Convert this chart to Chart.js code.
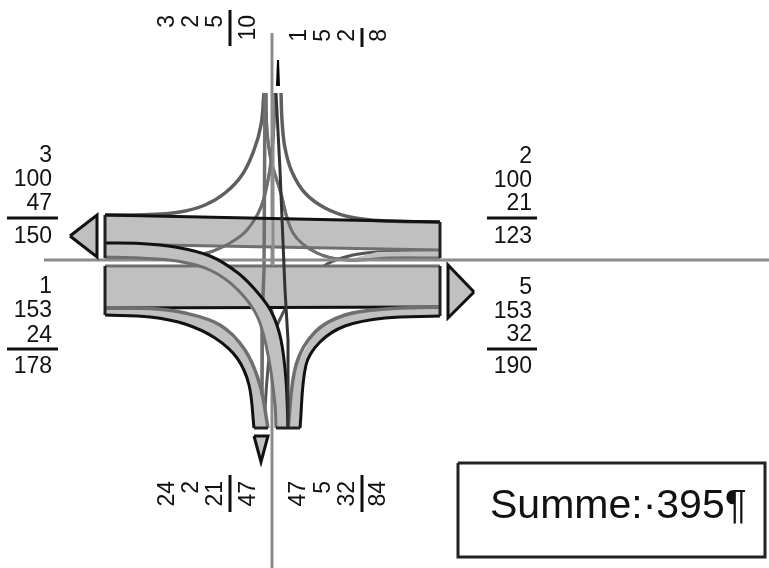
<!DOCTYPE html>
<html>
<head>
<meta charset="utf-8">
<style>
  html, body { margin: 0; padding: 0; background: #fff; }
  canvas { display: block; }
</style>
<script src="https://cdn.jsdelivr.net/npm/chart.js@4/dist/chart.umd.min.js"></script>
</head>
<body>
<canvas id="chart" width="769" height="568"></canvas>
<script>
// turning counts per arm
const westOut = [3, 100, 47], westOutSum = 150;
const westIn = [1, 153, 24], westInSum = 178;
const eastIn = [2, 100, 21], eastInSum = 123;
const eastOut = [5, 153, 32], eastOutSum = 190;
const northIn = [3, 2, 5], northInSum = 10;
const northOut = [1, 5, 2], northOutSum = 8;
const southIn = [24, 2, 21], southInSum = 47;
const southOut = [47, 5, 32], southOutSum = 84;
const totalLabel = "Summe:·395¶";

// diagram outlines
const axisH = [[44, 260], [769, 260]];
const axisV = [[272, 33], [272, 568]];
const upperBandTop = [[105, 215], [440, 222]];
const upperBandBottom = [[105, 244], [440, 250]];
const lowerBandTop = [[105, 266], [440, 266]];
const lowerBandBottom = [[105, 308], [440, 307]];
const wideOuter = [[105, 243], [140, 243.5], [175, 247], [210, 256], [238, 273], [258, 293], [272, 313], [281, 340], [286, 380], [288, 428]];
const wideInner = [[105, 257], [140, 258], [177, 261], [210, 270], [238, 290], [258, 318], [269, 360], [275, 405], [276, 428]];
const swOuter = [[105, 315], [150, 317], [185, 324], [215, 338], [237, 358], [249, 385], [254, 428]];
const swInner = [[105, 308], [150, 308.5], [185, 313], [220, 325], [245, 350], [260, 385], [268, 428]];
const seOuter = [[440, 316], [385, 318], [345, 326], [320, 342], [306, 365], [300, 428]];
const seInner = [[440, 307], [385, 309], [345, 315], [315, 332], [296, 365], [288, 428]];
const nwCurve = [[105, 215], [150, 214.5], [180, 212], [205, 205], [225, 193], [242, 175], [254, 150], [261, 125], [264, 93]];
const neCurve = [[440, 222], [385, 221], [350, 217], [325, 208], [305, 193], [292, 172], [285, 148], [282, 120], [281, 93]];
const crossLeft = [[105, 257], [150, 258], [177, 258], [207, 253], [230, 243], [247, 230], [261, 207], [269, 175], [273, 140], [275, 93]];
const crossRight = [[266, 93], [267, 130], [271, 160], [280, 190], [293, 233], [317, 253], [347, 260], [390, 258], [440, 258]];
const eastToSouth = [[440, 251], [400, 251.5], [377, 252], [353, 255], [327, 264], [300, 285], [283, 313], [272, 340], [267, 380], [264, 428]];
const eastTaper = [[440, 251], [377, 252], [347, 260], [385, 259], [440, 258]];
const throughLeft = [[265, 93], [264, 270], [262.5, 310], [262, 395]];
const throughMid = [[273, 93], [273, 266]];
const throughRight = [[276, 93], [280, 170], [285, 290], [288, 340], [288, 428]];
const edgeWest = [[105, 215], [105, 258]];
const edgeWestLow = [[105, 266], [105, 315]];
const edgeEast = [[440, 222], [440, 258]];
const edgeEastLow = [[440, 266], [440, 316]];
const southCapLeft = [[254, 428], [268, 428]];
const southCapRight = [[276, 428], [300, 428]];
const arrowWest = [[70, 236], [97, 215], [97, 257], [70, 236]];
const arrowEast = [[474, 292], [448, 265], [448, 318], [474, 292]];
const arrowSouth = [[254, 436], [268, 436], [261, 462], [254, 436]];
const arrowNorth = [[276, 86], [277, 60], [279, 60], [280, 86], [276, 86]];
const sumBox = [[458, 463], [765, 463], [765, 557], [458, 557], [458, 463]];
const rules = [
  [[7, 218], [58, 218]], [[7, 349], [58, 349]],
  [[487, 218], [537, 218]], [[487, 349], [537, 349]],
  [[230, 10], [230, 46]], [[362, 28], [362, 47]],
  [[230, 475], [230, 512]], [[362, 475], [362, 512]]
];

const GREY = "#6f6f6f";
const DARK = "#111111";
const FILL = "#c0c0c0";

const sets = [];

function line(points, color, width, tension) {
  sets.push({ data: points, showLine: true, pointRadius: 0, fill: false,
    borderColor: color, borderWidth: width, tension: tension || 0 });
}

function shape(points, color) {
  sets.push({ data: points, showLine: true, pointRadius: 0, fill: "shape",
    backgroundColor: color, borderWidth: 0, borderColor: color });
}

function ribbon(a, b) {
  return a.concat(b.slice().reverse());
}

line(axisV, "#8c8c8c", 3);
line(crossRight, GREY, 3, 0.35);
line(crossLeft, GREY, 3, 0.35);
line(eastToSouth, "#555555", 3, 0.35);
shape(ribbon(upperBandTop, upperBandBottom), FILL);
shape(ribbon(lowerBandTop, lowerBandBottom), FILL);
shape(eastTaper, FILL);
shape([[105, 308], [105, 315]].concat(swOuter.slice(1), swInner.slice(1).reverse()), FILL);
shape([[440, 307], [440, 316]].concat(seOuter.slice(1), seInner.slice(1).reverse()), FILL);
line(nwCurve, "#5f5f5f", 3.5, 0.4);
line(neCurve, "#5f5f5f", 3.5, 0.4);
line(crossRight, GREY, 3, 0.35);
line(crossLeft, GREY, 3, 0.35);
line(upperBandBottom, GREY, 3);
line(lowerBandTop, GREY, 3);
line(throughLeft, GREY, 3.5);
line(throughMid, "#8c8c8c", 3);
line(upperBandTop, DARK, 3);
line(lowerBandBottom, DARK, 3);
line(axisH, "#8c8c8c", 3);
shape(ribbon(wideOuter, wideInner), FILL);
line(wideInner, GREY, 3, 0.35);
line(wideOuter, DARK, 3, 0.35);
line(swInner, GREY, 3.5, 0.35);
line(swOuter, DARK, 3, 0.35);
line(seInner, GREY, 3.5, 0.35);
line(seOuter, DARK, 3, 0.35);
line(throughRight, "#333333", 3);
[edgeWest, edgeWestLow, edgeEast, edgeEastLow, southCapLeft, southCapRight].forEach(e => line(e, "#222222", 3));
shape(arrowWest, FILL); line(arrowWest, DARK, 3);
shape(arrowEast, FILL); line(arrowEast, DARK, 3);
shape(arrowSouth, FILL); line(arrowSouth, DARK, 3);
shape(arrowNorth, "#000000");
line(sumBox, "#222222", 3);
rules.forEach(r => line(r, "#111111", 3));

// first dataset is drawn on top by default, so flip it
sets.forEach((s, i) => { s.order = sets.length - i; });

const labelPlugin = {
  id: "countLabels",
  afterDatasetsDraw(chart) {
    const c = chart.ctx;
    const sx = chart.scales.x, sy = chart.scales.y;

    function flat(values, x, ys) {
      values.forEach((v, i) => c.fillText(String(v), sx.getPixelForValue(x), sy.getPixelForValue(ys[i])));
    }
    function turned(values, xs, y) {
      values.forEach((v, i) => {
        c.save();
        c.translate(sx.getPixelForValue(xs[i]), sy.getPixelForValue(y));
        c.rotate(-Math.PI / 2);
        c.fillText(String(v), 0, 0);
        c.restore();
      });
    }

    c.save();
    c.fillStyle = "#111111";
    c.font = "23px 'Liberation Sans'";
    c.textAlign = "right";
    c.textBaseline = "alphabetic";
    flat(westOut.concat(westOutSum), 52, [162, 186, 210, 243]);
    flat(westIn.concat(westInSum), 52, [293, 317, 342, 373]);
    flat(eastIn.concat(eastInSum), 532, [163, 187, 210, 243]);
    flat(eastOut.concat(eastOutSum), 532, [294, 318, 341, 373]);
    turned(northIn.concat(northInSum), [174, 198, 222, 255], 15);
    turned(northOut.concat(northOutSum), [306, 330, 354, 386], 29);
    turned(southIn.concat(southInSum), [174, 198, 222, 255], 481);
    turned(southOut.concat(southOutSum), [305, 330, 354, 385], 481);

    c.font = "41px 'Liberation Sans'";
    c.textAlign = "left";
    c.fillText(totalLabel, sx.getPixelForValue(490), sy.getPixelForValue(518));
    c.restore();
  }
};

new Chart(document.getElementById("chart").getContext("2d"), {
  type: "scatter",
  data: { datasets: sets },
  plugins: [labelPlugin],
  options: {
    responsive: false,
    animation: false,
    layout: { padding: 0 },
    plugins: { legend: { display: false }, tooltip: { enabled: false } },
    scales: {
      x: { type: "linear", display: false, min: 0, max: 769 },
      y: { type: "linear", display: false, min: 0, max: 568, reverse: true }
    }
  }
});
</script>
</body>
</html>
